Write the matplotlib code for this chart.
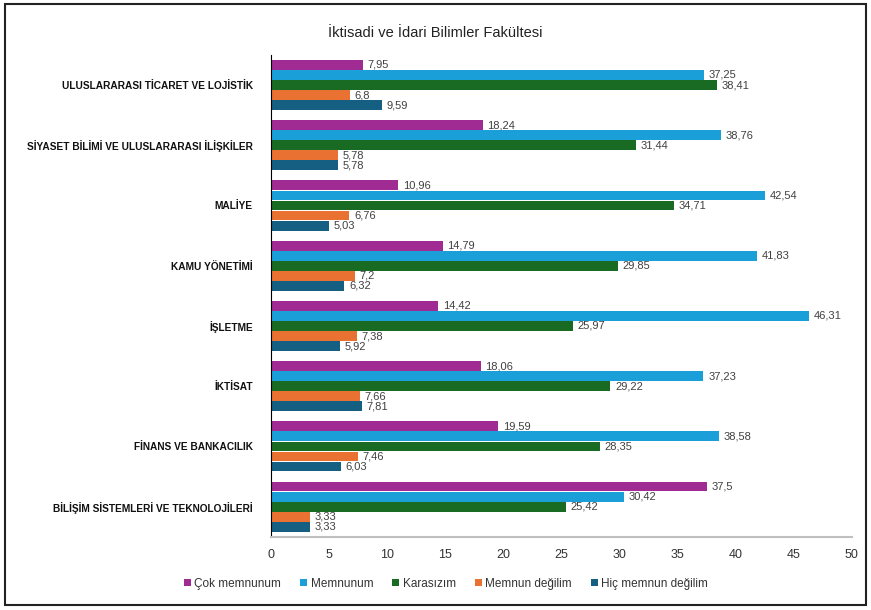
import numpy as np
import matplotlib.pyplot as plt
from matplotlib.patches import Rectangle

### Data ###
departments = ['ULUSLARARASI TİCARET VE LOJİSTİK',
               'SİYASET BİLİMİ VE ULUSLARARASI İLİŞKİLER',
               'MALİYE',
               'KAMU YÖNETİMİ',
               'İŞLETME',
               'İKTİSAT',
               'FİNANS VE BANKACILIK',
               'BİLİŞİM SİSTEMLERİ VE TEKNOLOJİLERİ']

cokMemnun = [7.95, 18.24, 10.96, 14.79, 14.42, 18.06, 19.59, 37.5]
memnun = [37.25, 38.76, 42.54, 41.83, 46.31, 37.23, 38.58, 30.42]
kararsiz = [38.41, 31.44, 34.71, 29.85, 25.97, 29.22, 28.35, 25.42]
memnunDegil = [6.8, 5.78, 6.76, 7.2, 7.38, 7.66, 7.46, 3.33]
hicMemnunDegil = [9.59, 5.78, 5.03, 6.32, 5.92, 7.81, 6.03, 3.33]

seriesNames = ['Çok memnunum', 'Memnunum', 'Karasızım', 'Memnun değilim', 'Hiç memnun değilim']
seriesColors = ['#A02B93', '#1A9FD9', '#196B24', '#E97132', '#156082']
seriesData = [cokMemnun, memnun, kararsiz, memnunDegil, hicMemnunDegil]

### Setting up MPL ###
plt.rcParams['font.family'] = ['Liberation Sans', 'DejaVu Sans']

fig = plt.figure(figsize=(8.71, 6.10), dpi=100)
ax = fig.add_axes([0.311, 0.12, 0.667, 0.79])

centers = np.arange(len(departments))
barH = 0.163
step = 0.167

for i, (name, color, vals) in enumerate(zip(seriesNames, seriesColors, seriesData)):
    ypos = centers + (i - 2) * step
    ax.barh(ypos, vals, height=barH, color=color, label=name)
    for y, v in zip(ypos, vals):
        ax.text(v + 0.4, y, ('%g' % v).replace('.', ','), va='center', ha='left',
                fontsize=8, color='#404040')

ax.set_ylim(len(departments) - 0.5, -0.5)
ax.set_xlim(0, 50)
ax.set_xticks(np.arange(0, 51, 5))
ax.set_yticks(centers)
ax.set_yticklabels(departments, fontsize=7.3, color='#111111', fontweight='bold')
ax.tick_params(axis='y', length=0, pad=13)
ax.tick_params(axis='x', length=0, pad=9, labelsize=9, labelcolor='#333333')

ax.spines['top'].set_visible(False)
ax.spines['right'].set_visible(False)
ax.spines['left'].set_color('black')
ax.spines['bottom'].set_color('#BFBFBF')
ax.spines['bottom'].set_linewidth(1.5)

fig.suptitle('İktisadi ve İdari Bilimler Fakültesi', y=0.958, fontsize=10.5, color='#222222')

leg = fig.legend(loc='center', bbox_to_anchor=(0.512, 0.043), ncol=5, frameon=False,
                 fontsize=8.5, handlelength=0.6, handleheight=0.6, handletextpad=0.3,
                 columnspacing=1.6)
for t in leg.get_texts():
    t.set_color('#333333')

fig.patches.append(Rectangle((0.006, 0.008), 0.988, 0.985, transform=fig.transFigure,
                             fill=False, edgecolor='#222222', linewidth=1.5))

fig.savefig('out.png', dpi=100)
